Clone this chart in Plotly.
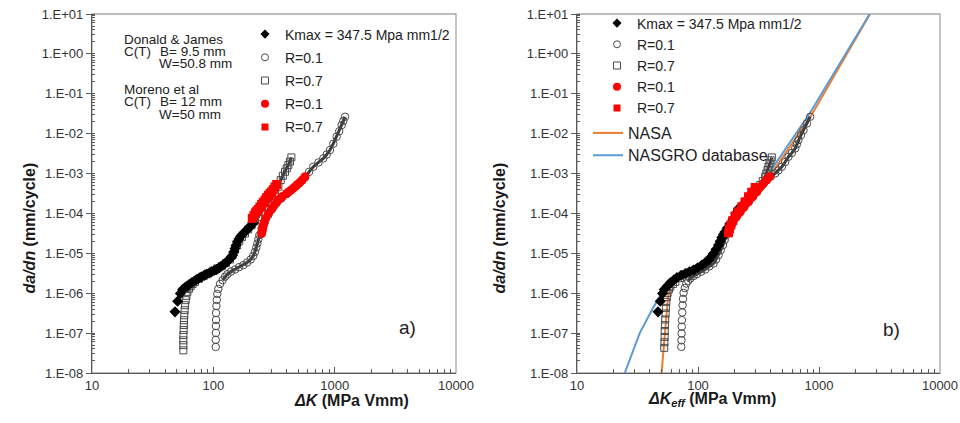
import plotly.graph_objects as go

# ---------------- data ----------------
# Panel a) : da/dn vs Delta K
a_kmax_x = [48.3, 50.8, 53.5, 55.8, 58, 60.3, 63, 66.2, 69.5, 72.9, 76.5, 80.1, 84, 88.1, 92.5, 96.8,
            101.5, 106.4, 110.5, 114.8, 119.5, 124.7, 130, 135.4, 140, 144.3, 148, 150.9, 154, 157.7,
            162.5, 168.0, 175, 182.4, 190, 198.0, 206, 213.6]
a_kmax_y = [3.41e-7, 6.3e-7, 9.8e-7, 1.24e-6, 1.37e-6, 1.50e-6, 1.65e-6, 1.82e-6, 2.0e-6, 2.21e-6,
            2.4e-6, 2.58e-6, 2.8e-6, 3.0e-6, 3.2e-6, 3.44e-6, 3.7e-6, 3.94e-6, 4.25e-6, 4.59e-6,
            5.05e-6, 5.57e-6, 6.2e-6, 7.0e-6, 7.9e-6, 9.0e-6, 1.1e-5, 1.33e-5, 1.6e-5, 1.95e-5,
            2.3e-5, 2.70e-5, 3.05e-5, 3.47e-5, 3.95e-5, 4.45e-5, 5.1e-5, 5.83e-5]

a_r01_x = [104.7, 104.7, 105.0, 105.0, 105.3, 105.3, 106.0, 106.7, 107.8, 109.9, 113.5, 119.3, 125,
           130.4, 140, 150.9, 163, 176.6, 190, 203.1, 213, 220.4, 226, 230.5, 235, 239.4, 250, 265,
           284, 305, 332.7, 365, 402, 440, 486, 525, 569, 615, 666.7, 735, 806, 860, 915, 975, 1038,
           1090, 1142, 1180, 1217]
a_r01_y = [4.5e-8, 6.8e-8, 1.01e-7, 1.51e-7, 2.14e-7, 3.2e-7, 4.8e-7, 6.8e-7, 9.6e-7, 1.28e-6, 1.71e-6,
           2.13e-6, 2.6e-6, 3.0e-6, 3.5e-6, 3.94e-6, 4.5e-6, 5.06e-6, 5.9e-6, 7.0e-6, 8.6e-6, 1.09e-5,
           1.4e-5, 1.77e-5, 2.25e-5, 2.86e-5, 4.2e-5, 6.0e-5, 9.1e-5, 1.3e-4, 1.85e-4, 2.4e-4, 3.05e-4,
           3.9e-4, 4.94e-4, 6.3e-4, 8.0e-4, 1.1e-3, 1.48e-3, 1.9e-3, 2.40e-3, 3.0e-3, 3.88e-3, 5.6e-3,
           8.4e-3, 1.15e-2, 1.64e-2, 2.1e-2, 2.66e-2]

a_r07_x = [56.6, 56.6, 56.6, 56.7, 56.9, 57.1, 57.3, 57.6, 58.0, 58.5, 59.2, 60.0, 61.1, 63, 65.0, 67.5,
           70.6, 76, 82.7, 90, 100, 108, 117.2, 127, 137.1, 144, 150.9, 157, 163.8, 172, 182.4, 194,
           207.0, 220, 235.0, 250, 266.6, 284, 302.6, 322, 343.5, 359, 374, 389.6, 403, 415.1, 428, 439.6]
a_r07_y = [3.7e-8, 5.0e-8, 6.6e-8, 8.9e-8, 1.19e-7, 1.6e-7, 2.11e-7, 2.8e-7, 3.76e-7, 5.0e-7, 6.7e-7,
           8.6e-7, 1.08e-6, 1.3e-6, 1.50e-6, 1.7e-6, 1.93e-6, 2.3e-6, 2.68e-6, 3.1e-6, 3.65e-6, 4.2e-6,
           4.78e-6, 5.7e-6, 7.0e-6, 9.0e-6, 1.25e-5, 1.6e-5, 2.06e-5, 2.55e-5, 3.15e-5, 4.0e-5, 5.1e-5,
           6.5e-5, 8.2e-5, 1.1e-4, 1.47e-4, 1.9e-4, 2.38e-4, 3.2e-4, 4.67e-4, 6.85e-4, 8.8e-4, 1.11e-3,
           1.35e-3, 1.63e-3, 2.0e-3, 2.54e-3]

a_m01_x = [250, 252, 255.2, 258, 261.8, 270, 284, 300, 315, 332.7, 350, 370, 402, 420, 445, 465, 486,
           510, 540, 569]
a_m01_y = [3.15e-5, 3.6e-5, 4.2e-5, 5.0e-5, 5.83e-5, 7.5e-5, 1.0e-4, 1.25e-4, 1.55e-4, 1.96e-4, 2.3e-4,
           2.65e-4, 3.18e-4, 3.5e-4, 4.0e-4, 4.5e-4, 5.14e-4, 5.8e-4, 6.9e-4, 8.3e-4]

a_m07_x = [209.4, 216, 222, 228, 235, 242, 250, 258, 266.6, 275, 284, 293, 302.6, 312, 322, 332.7]
a_m07_y = [7.5e-5, 8.8e-5, 1.03e-4, 1.14e-4, 1.26e-4, 1.45e-4, 1.68e-4, 1.9e-4, 2.16e-4, 2.5e-4,
           2.85e-4, 3.15e-4, 3.49e-4, 3.95e-4, 4.6e-4, 5.33e-4]

# Panel b) : da/dn vs Delta K_eff
b_kmax_x = [46.7, 48.8, 50.9, 52.6, 55.5, 59.0, 63, 67.0, 72.5, 78.5, 85, 91.9, 99.5, 107.7, 115, 122.2,
            128, 134.4, 141, 147.8, 152.5, 157.4, 162.5, 167.9, 176, 184.6, 196, 205, 215]
b_kmax_y = [3.41e-7, 6.3e-7, 9.8e-7, 1.24e-6, 1.5e-6, 1.82e-6, 2.15e-6, 2.48e-6, 2.8e-6, 3.13e-6,
            3.45e-6, 3.79e-6, 4.35e-6, 5.06e-6, 5.85e-6, 6.75e-6, 8.1e-6, 9.9e-6, 1.27e-5, 1.61e-5,
            2.0e-5, 2.5e-5, 2.95e-5, 3.47e-5, 4.4e-5, 5.61e-5, 7.5e-5, 1.0e-4, 1.3e-4]

b_r01_x = [72.8, 73.0, 73.2, 73.4, 73.6, 74.0, 74.6, 75.2, 76.0, 77.8, 80.0, 83, 86.3, 92, 98.0, 106,
           114.8, 124, 134.4, 141, 147.8, 154, 160.7, 166, 171.1, 176, 182.3, 195, 209.5, 230, 253.4,
           280, 306.4, 338, 370.5, 400, 434.6, 462, 493.3, 525, 559.8, 597, 635.4, 656, 676.4, 710,
           744.3, 795, 845.4]
b_r01_y = [4.53e-8, 6.6e-8, 9.8e-8, 1.45e-7, 2.11e-7, 3.3e-7, 5.02e-7, 7.2e-7, 1.02e-6, 1.35e-6,
           1.75e-6, 2.05e-6, 2.34e-6, 2.7e-6, 3.0e-6, 3.45e-6, 3.94e-6, 4.7e-6, 5.57e-6, 7.0e-6, 9.0e-6,
           1.2e-5, 1.61e-5, 2.15e-5, 2.86e-5, 3.6e-5, 4.64e-5, 6.5e-5, 9.1e-5, 1.35e-4, 1.96e-4,
           2.75e-4, 3.85e-4, 5.1e-4, 6.85e-4, 8.5e-4, 1.01e-3, 1.2e-3, 1.48e-3, 1.95e-3, 2.64e-3,
           3.3e-3, 4.27e-3, 5.4e-3, 6.9e-3, 9.2e-3, 1.23e-2, 1.8e-2, 2.66e-2]

b_r07_x = [52.6, 52.8, 53.0, 53.1, 53.3, 53.6, 54.0, 54.3, 54.7, 55.3, 56.1, 57.5, 59.0, 62, 64.9, 71,
           78.5, 86, 94.8, 103, 111.2, 118, 126.2, 132, 138.7, 145, 150.7, 156, 162.6, 170, 178.7, 190,
           202.8, 220, 237.7, 258, 278.6, 302, 326.6, 343, 359.3, 367, 375.2, 382, 389.9, 398, 407.4]
b_r07_y = [4.27e-8, 5.9e-8, 8.05e-8, 1.13e-7, 1.58e-7, 2.2e-7, 3.1e-7, 4.3e-7, 6.08e-7, 8.0e-7,
           1.02e-6, 1.25e-6, 1.45e-6, 1.7e-6, 1.93e-6, 2.4e-6, 3.0e-6, 3.4e-6, 3.79e-6, 4.3e-6, 4.86e-6,
           5.7e-6, 6.75e-6, 8.3e-6, 1.03e-5, 1.3e-5, 1.70e-5, 2.2e-5, 2.86e-5, 3.6e-5, 4.64e-5, 6.2e-5,
           8.24e-5, 1.15e-4, 1.62e-4, 2.15e-4, 2.88e-4, 3.85e-4, 5.14e-4, 6.5e-4, 8.3e-4, 1.0e-3,
           1.22e-3, 1.48e-3, 1.80e-3, 2.15e-3, 2.54e-3]

b_m01_x = [182.3, 189, 196.6, 210, 223.4, 240, 261.6, 283, 306.4, 325, 347.6, 368, 389.9]
b_m01_y = [3.82e-5, 5.1e-5, 6.8e-5, 8.8e-5, 1.10e-4, 1.45e-4, 1.96e-4, 2.6e-4, 3.49e-4, 4.5e-4,
           5.66e-4, 6.9e-4, 8.3e-4]

b_m07_x = [178.7, 182, 186.9, 194, 202.8, 215, 230.2, 245, 261.6, 278, 297.0]
b_m07_y = [3.27e-5, 4.1e-5, 5.1e-5, 6.6e-5, 8.57e-5, 1.1e-4, 1.47e-4, 1.95e-4, 2.62e-4, 3.4e-4, 4.49e-4]

nasa_x = [50, 52.5, 54.5, 56.5, 60, 75, 100, 125, 145, 165, 190, 250, 350, 450, 860, 2640]
nasa_y = [1e-8, 5e-8, 2e-7, 8e-7, 1.6e-6, 2.8e-6, 3.8e-6, 5.5e-6, 9e-6, 2e-5, 5e-5, 1.5e-4, 5e-4,
          1.6e-3, 2.8e-2, 10]
nasgro_x = [24.8, 33, 42, 50, 62, 80, 100, 125, 145, 165, 190, 250, 350, 421, 839, 2625]
nasgro_y = [1e-8, 1e-7, 4e-7, 1e-6, 2e-6, 2.9e-6, 3.8e-6, 5.5e-6, 9e-6, 2e-5, 5e-5, 1.5e-4, 5e-4,
            1.5e-3, 3.24e-2, 10]

x_tickvals = [10, 100, 1000, 10000]
x_ticktext = ["10", "100", "1000", "10000"]
y_tickvals = [1e1, 1e0, 1e-1, 1e-2, 1e-3, 1e-4, 1e-5, 1e-6, 1e-7, 1e-8]
y_ticktext = ["1.E+01", "1.E+00", "1.E-01", "1.E-02", "1.E-03", "1.E-04", "1.E-05", "1.E-06",
              "1.E-07", "1.E-08"]

legend_names = ["Kmax = 347.5 Mpa mm1/2", "R=0.1", "R=0.7", "R=0.1", "R=0.7"]

# ---------------- figure ----------------
W, H = 960, 423
FONT = "Liberation Sans, Arial, sans-serif"
RED = "#FF0000"
GREY = "#4a4a4a"


def pxx(v):
    return v / W


def pxy(v):
    return 1 - v / H


fig = go.Figure()


def add_panel(xa, ya, kx, ky, cx, cy, sx, sy, mcx, mcy, msx, msy, kmax_band_start):
    # hollow circles (R=0.1)
    fig.add_trace(go.Scatter(x=cx[11:], y=cy[11:], mode="lines", xaxis=xa, yaxis=ya, showlegend=False,
                             line=dict(color="#3a3a3a", width=3), hoverinfo="skip"))
    fig.add_trace(go.Scatter(x=cx, y=cy, mode="markers", xaxis=xa, yaxis=ya, showlegend=False,
                             marker=dict(symbol="circle-open", size=7.5, color=GREY, line=dict(width=1))))
    # hollow squares (R=0.7)
    fig.add_trace(go.Scatter(x=sx[12:], y=sy[12:], mode="lines", xaxis=xa, yaxis=ya, showlegend=False,
                             line=dict(color="#3a3a3a", width=3), hoverinfo="skip"))
    fig.add_trace(go.Scatter(x=sx, y=sy, mode="markers", xaxis=xa, yaxis=ya, showlegend=False,
                             marker=dict(symbol="square-open", size=7, color=GREY, line=dict(width=1))))
    # Kmax diamonds
    fig.add_trace(go.Scatter(x=kx[kmax_band_start:], y=ky[kmax_band_start:], mode="lines", xaxis=xa,
                             yaxis=ya, showlegend=False, line=dict(color="black", width=6),
                             hoverinfo="skip"))
    fig.add_trace(go.Scatter(x=kx, y=ky, mode="markers", xaxis=xa, yaxis=ya, showlegend=False,
                             marker=dict(symbol="diamond", size=8.5, color="black")))
    # red (Moreno et al)
    fig.add_trace(go.Scatter(x=msx, y=msy, mode="lines+markers", xaxis=xa, yaxis=ya, showlegend=False,
                             line=dict(color=RED, width=8),
                             marker=dict(symbol="square", size=9, color=RED)))
    fig.add_trace(go.Scatter(x=mcx, y=mcy, mode="lines+markers", xaxis=xa, yaxis=ya, showlegend=False,
                             line=dict(color=RED, width=7),
                             marker=dict(symbol="circle", size=9, color=RED)))


# lines of panel b drawn beneath the markers
fig.add_trace(go.Scatter(x=nasa_x, y=nasa_y, mode="lines", xaxis="x2", yaxis="y2", name="NASA",
                         legend="legend3", line=dict(color="#ED7D31", width=2)))
fig.add_trace(go.Scatter(x=nasgro_x, y=nasgro_y, mode="lines", xaxis="x2", yaxis="y2",
                         name="NASGRO database", legend="legend4", line=dict(color="#5B9BD5", width=2)))

add_panel("x", "y", a_kmax_x, a_kmax_y, a_r01_x, a_r01_y, a_r07_x, a_r07_y,
          a_m01_x, a_m01_y, a_m07_x, a_m07_y, 3)
add_panel("x2", "y2", b_kmax_x, b_kmax_y, b_r01_x, b_r01_y, b_r07_x, b_r07_y,
          b_m01_x, b_m01_y, b_m07_x, b_m07_y, 3)

# legend-only entries
leg_markers = [dict(symbol="diamond", size=7, color="black"),
               dict(symbol="circle-open", size=7, color=GREY, line=dict(width=1)),
               dict(symbol="square-open", size=7, color=GREY, line=dict(width=1)),
               dict(symbol="circle", size=8, color=RED),
               dict(symbol="square", size=7, color=RED)]
for lg, xa, ya in (("legend", "x", "y"), ("legend2", "x2", "y2")):
    for i, (nm, mk) in enumerate(zip(legend_names, leg_markers)):
        fig.add_trace(go.Scatter(x=[None], y=[None], mode="markers", xaxis=xa, yaxis=ya, name=nm,
                                 legend=lg, legendgroup=f"{lg}{i}", marker=mk))

axis_common = dict(type="log", showgrid=False, zeroline=False, linecolor="#595959", linewidth=1.3,
                   tickfont=dict(family=FONT, size=13, color="#333333"), ticks="outside",
                   tickcolor="#595959", ticklen=5, automargin=False)

xdom_a = [pxx(92), pxx(456)]
xdom_b = [pxx(577), pxx(940)]
ydom = [pxy(373), pxy(14)]

xa_cfg = dict(axis_common, range=[1, 4], tickvals=x_tickvals, ticktext=x_ticktext, ticks="inside",
              ticklen=6, minor=dict(ticks="inside", ticklen=4, dtick="D1", tickcolor="#595959"))
ya_cfg = dict(axis_common, range=[-8, 1], tickvals=y_tickvals, ticktext=y_ticktext,
              minor=dict(ticks="inside", ticklen=3, dtick="D1", tickcolor="#595959"))

leg_font = dict(family=FONT, size=14, color="#222222")
leg_big = dict(family=FONT, size=16, color="#222222")
fig.update_layout(
    width=W, height=H, margin=dict(l=0, r=0, t=0, b=0, autoexpand=False),
    paper_bgcolor="white", plot_bgcolor="white",
    xaxis=dict(xa_cfg, domain=xdom_a, anchor="y"),
    yaxis=dict(ya_cfg, domain=ydom, anchor="x"),
    xaxis2=dict(xa_cfg, domain=xdom_b, anchor="y2"),
    yaxis2=dict(ya_cfg, domain=ydom, anchor="x2"),
    legend=dict(x=pxx(245), y=pxy(18.5), xanchor="left", yanchor="top", bgcolor="rgba(0,0,0,0)",
                font=leg_font, tracegroupgap=2, itemwidth=30),
    legend2=dict(x=pxx(597), y=pxy(7.5), xanchor="left", yanchor="top", bgcolor="rgba(0,0,0,0)",
                 font=leg_font, tracegroupgap=0, itemwidth=30),
    legend3=dict(x=pxx(588), y=pxy(116), xanchor="left", yanchor="top", bgcolor="rgba(0,0,0,0)",
                 font=leg_big, itemwidth=30),
    legend4=dict(x=pxx(588), y=pxy(138.3), xanchor="left", yanchor="top", bgcolor="rgba(0,0,0,0)",
                 font=leg_big, itemwidth=30),
    showlegend=True,
)

# grey frame around each plot area
for xr, yr in (("x domain", "y domain"), ("x2 domain", "y2 domain")):
    fig.add_shape(type="rect", xref=xr, yref=yr, x0=0, x1=1, y0=0, y1=1,
                  line=dict(color="#a6a6a6", width=1.3), layer="below")

ann_font = dict(family=FONT, size=13.5, color="#222222")
texts = [("Donald & James", 121.7, 39.3), ("C(T)", 121.7, 51.7), ("B= 9.5 mm", 157.7, 51.7),
         ("W=50.8 mm", 156.7, 63.3), ("Moreno et al", 121.7, 89.3), ("C(T)", 121.7, 101.7),
         ("B= 12 mm", 157.7, 101.7), ("W=50 mm", 156.7, 114.3)]
for t, x0, y0 in texts:
    fig.add_annotation(text=t, x=pxx(x0), y=pxy(y0), xref="paper", yref="paper", xanchor="left",
                       yanchor="middle", showarrow=False, font=ann_font)

title_font = dict(family=FONT, size=16, color="#1a1a1a")
fig.add_annotation(text="<b><i>da/dn</i> (mm/cycle)</b>", x=pxx(18), y=pxy(228), xref="paper",
                   yref="paper", textangle=-90, showarrow=False, font=title_font)
fig.add_annotation(text="<b><i>da/dn</i> (mm/cycle)</b>", x=pxx(498.5), y=pxy(228), xref="paper",
                   yref="paper", textangle=-90, showarrow=False, font=title_font)
fig.add_annotation(text="<b><i>ΔK</i> (MPa Vmm)</b>", x=pxx(292), y=pxy(410.5), xref="paper",
                   yref="paper", showarrow=False, font=title_font)
fig.add_annotation(text="<b><i>ΔK<sub>eff</sub></i> (MPa Vmm)</b>", x=pxx(778), y=pxy(410.5),
                   xref="paper", yref="paper", showarrow=False, font=title_font)
fig.add_annotation(text="a)", x=pxx(407), y=pxy(340), xref="paper", yref="paper", showarrow=False,
                   font=dict(family=FONT, size=19, color="#222222"))
fig.add_annotation(text="b)", x=pxx(902), y=pxy(341.5), xref="paper", yref="paper", showarrow=False,
                   font=dict(family=FONT, size=19, color="#222222"))

fig.write_html("out.html", config={"displayModeBar": False},
               post_script="document.body.style.margin='0';document.body.style.padding='0';"
                           "document.body.style.overflow='hidden';")
